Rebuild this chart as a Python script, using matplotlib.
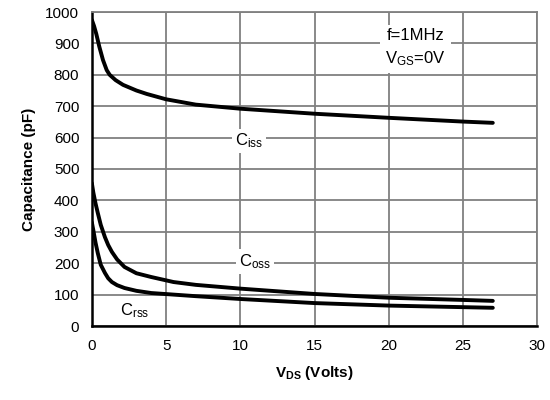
import matplotlib
matplotlib.use("Agg")
import matplotlib.pyplot as plt

plt.rcParams["font.family"] = ["Liberation Sans", "DejaVu Sans"]
plt.rcParams["mathtext.fontset"] = "custom"
plt.rcParams["mathtext.rm"] = "Liberation Sans"
plt.rcParams["mathtext.it"] = "Liberation Sans"
plt.rcParams["mathtext.bf"] = "Liberation Sans:bold"

# values
v_iss = [0, 0.15, 0.3, 0.5, 0.75, 1.0, 1.2, 1.6, 2.1, 3, 3.7, 5, 7, 10, 15, 20, 25, 27]
c_iss = [975, 955, 930, 890, 847, 815, 800, 783, 768, 750, 739, 722, 705, 692, 676, 663, 651, 647]

v_oss = [0, 0.1, 0.25, 0.4, 0.6, 0.88, 1.1, 1.35, 1.7, 2.2, 3, 4, 5.5, 7, 10, 15, 20, 25, 27]
c_oss = [455, 425, 390, 360, 322, 283, 258, 236, 212, 188, 168, 156, 140, 131, 119, 102, 90, 83, 80]

v_rss = [0, 0.1, 0.25, 0.4, 0.6, 0.88, 1.1, 1.35, 1.7, 2.2, 3, 4, 5.5, 7, 10, 15, 20, 25, 27]
c_rss = [330, 305, 265, 232, 195, 169, 152, 140, 130, 121, 112, 105, 100, 95, 86, 73, 65, 60, 58]

fig, ax = plt.subplots(figsize=(5.5, 4), dpi=100)
fig.subplots_adjust(left=0.167, right=0.977, top=0.97, bottom=0.185)

for v, c in [(v_iss, c_iss), (v_oss, c_oss), (v_rss, c_rss)]:
    ax.plot(v, c, color="black", lw=2.8, solid_capstyle="round",
            solid_joinstyle="round", zorder=4)

ax.set_xlim(0, 30)
ax.set_ylim(0, 1000)
ax.set_xticks(range(0, 31, 5))
ax.set_yticks(range(0, 1001, 100))
ax.grid(color="#808080", lw=1.3)
ax.set_axisbelow(True)
ax.tick_params(length=0, labelsize=11, pad=9)
for s in ["top", "right"]:
    ax.spines[s].set_color("#808080")
    ax.spines[s].set_linewidth(1.3)
for s in ["left", "bottom"]:
    ax.spines[s].set_color("black")
    ax.spines[s].set_linewidth(1.8)

ax.set_xlabel(r"V$_{\mathbf{DS}}$ (Volts)", fontsize=11, fontweight="bold", labelpad=8)
ax.set_ylabel("Capacitance (pF)", fontsize=11, fontweight="bold", labelpad=7)

box = dict(facecolor="white", edgecolor="none", pad=2)
ax.text(10.6, 590, r"C$_{\mathregular{iss}}$", fontsize=12, ha="center", va="center", bbox=box, zorder=3)
ax.text(11.0, 205, r"C$_{\mathregular{oss}}$", fontsize=12, ha="center", va="center", bbox=box, zorder=3)
ax.text(2.9, 50, r"C$_{\mathregular{rss}}$", fontsize=12, ha="center", va="center", bbox=box, zorder=3)
ax.text(21.8, 885, "f=1MHz\n" + r"V$_{\mathregular{GS}}$=0V", fontsize=12, ha="center", va="center",
        linespacing=1.4, bbox=dict(facecolor="white", edgecolor="none", pad=4), zorder=3)

fig.savefig("out.png", dpi=100)
